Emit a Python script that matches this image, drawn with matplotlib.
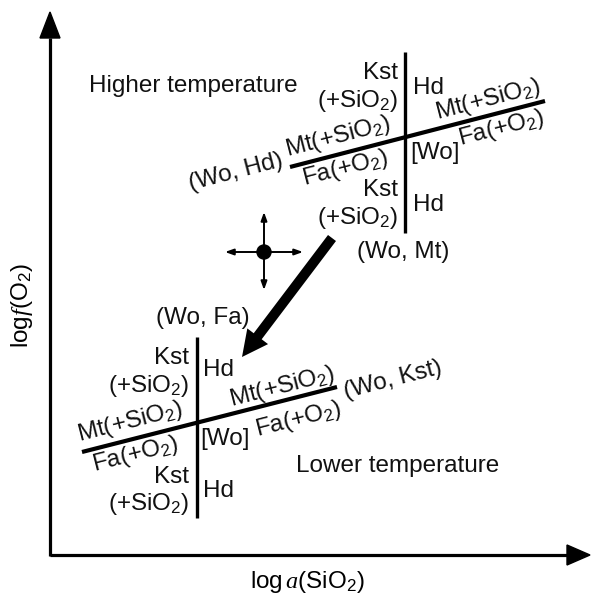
import matplotlib
matplotlib.use("Agg")
import matplotlib.pyplot as plt
from matplotlib.patches import FancyArrow, Circle
import numpy as np

plt.rcParams['font.family'] = ['Liberation Sans', 'DejaVu Sans']
plt.rcParams['mathtext.fontset'] = 'custom'
plt.rcParams['mathtext.rm'] = 'Liberation Sans'
plt.rcParams['mathtext.it'] = 'Liberation Serif:italic'

# ---- schematic data (figure pixel space, y downwards) ----
origin = (50, 555)
x_axis_end = 590
y_axis_end = 12

# upper (higher temperature) invariant point lines
hi_vert_x = [405, 405]
hi_vert_y = [52, 233]
hi_slope_x = [290, 545]
hi_slope_y = [167, 101]

# lower (lower temperature) invariant point lines
lo_vert_x = [197, 197]
lo_vert_y = [337, 518]
lo_slope_x = [82, 337]
lo_slope_y = [452, 387]

# big shift arrow
shift_tail = (332, 238)
shift_tip = (242, 357)

# crosshair
cross_center = (264, 252)
cross_left, cross_right, cross_up, cross_down = 225, 303, 212, 290

# labels
KST = "Kst"
SIO2 = "(+SiO$_2$)"
HD = "Hd"
MT = "Mt(+SiO$_2$)"
FA = "Fa(+O$_2$)"
WO = "[Wo]"

plain_labels = [
    ("Higher temperature", 193, 86, 'center'),
    (KST, 398, 73, 'right'),
    (SIO2, 398, 101, 'right'),
    (HD, 413, 88, 'left'),
    (WO, 410, 153, 'left'),
    (KST, 398, 190, 'right'),
    (SIO2, 398, 218, 'right'),
    (HD, 413, 205, 'left'),
    ("(Wo, Mt)", 403, 252, 'center'),
    ("(Wo, Fa)", 203, 318, 'center'),
    (KST, 189, 358, 'right'),
    (SIO2, 189, 386, 'right'),
    (HD, 203, 370, 'left'),
    (WO, 200, 439, 'left'),
    ("Lower temperature", 398, 466, 'center'),
    (KST, 189, 477, 'right'),
    (SIO2, 189, 504, 'right'),
    (HD, 203, 491, 'left'),
]

rot_labels = [
    (MT, 488, 100),
    (FA, 501, 128),
    (MT, 338, 137),
    (FA, 345, 168),
    ("(Wo, Hd)", 236, 172),
    (MT, 282, 387),
    (FA, 298, 420),
    (MT, 130, 422),
    (FA, 135, 455),
    ("(Wo, Kst)", 393, 380),
]

W, H = 591, 602
fig = plt.figure(figsize=(W / 100, H / 100), dpi=100)
ax = fig.add_axes([0, 0, 1, 1])
ax.set_xlim(0, W)
ax.set_ylim(H, 0)
ax.axis('off')

fs = 17.5
lw_axis = 2.3
lw_line = 2.4

# axes with arrowheads
ax.plot([origin[0], 567], [origin[1], origin[1]], color='black', lw=lw_axis, solid_capstyle='butt')
ax.plot([origin[0], origin[0]], [origin[1] + 1, 38], color='black', lw=lw_axis, solid_capstyle='butt')
ax.add_patch(plt.Polygon([[567, origin[1] - 10], [567, origin[1] + 10], [x_axis_end, origin[1]]],
                         closed=True, color='black'))
ax.add_patch(plt.Polygon([[origin[0] - 10, 38], [origin[0] + 10, 38], [origin[0], y_axis_end]],
                         closed=True, color='black'))

# reaction lines
ax.plot(hi_vert_x, hi_vert_y, color='black', lw=lw_line, solid_capstyle='butt')
ax.plot(hi_slope_x, hi_slope_y, color='black', lw=lw_line + 0.6, solid_capstyle='butt')
ax.plot(lo_vert_x, lo_vert_y, color='black', lw=lw_line, solid_capstyle='butt')
ax.plot(lo_slope_x, lo_slope_y, color='black', lw=lw_line + 0.6, solid_capstyle='butt')

angle_hi = np.degrees(np.arctan2(hi_slope_y[0] - hi_slope_y[1], hi_slope_x[1] - hi_slope_x[0]))
angle_lo = np.degrees(np.arctan2(lo_slope_y[0] - lo_slope_y[1], lo_slope_x[1] - lo_slope_x[0]))

# big arrow
dx = shift_tip[0] - shift_tail[0]
dy = shift_tip[1] - shift_tail[1]
ax.add_patch(FancyArrow(shift_tail[0], shift_tail[1], dx, dy, width=10, head_width=26,
                        head_length=26, length_includes_head=True, color='black', lw=0))

# crosshair
cx, cy = cross_center
akw = dict(arrowstyle='-|>,head_length=0.5,head_width=0.18', color='black', lw=1.4,
           shrinkA=0, shrinkB=0)
for tx, ty in [(cross_left, cy), (cross_right, cy), (cx, cross_up), (cx, cross_down)]:
    ax.annotate('', xy=(tx, ty), xytext=(cx, cy), arrowprops=akw)
ax.add_patch(Circle((cx, cy), 7, color='black', zorder=5))

for s, x, y, ha in plain_labels:
    ax.text(x, y, s, fontsize=fs, ha=ha, va='center', color='#111111')

for i, (s, x, y) in enumerate(rot_labels):
    ang = angle_hi if i < 5 else angle_lo
    ax.text(x, y, s, fontsize=fs, ha='center', va='center', rotation=ang,
            rotation_mode='anchor', color='#111111')

# axis titles
ax.text(22, 306, r"log$f$(O$_2$)", fontsize=fs, rotation=90, ha='center', va='center')
ax.text(307, 582, r"log$\,a$(SiO$_2$)", fontsize=fs, ha='center', va='center')

fig.savefig('out.png', dpi=100)
